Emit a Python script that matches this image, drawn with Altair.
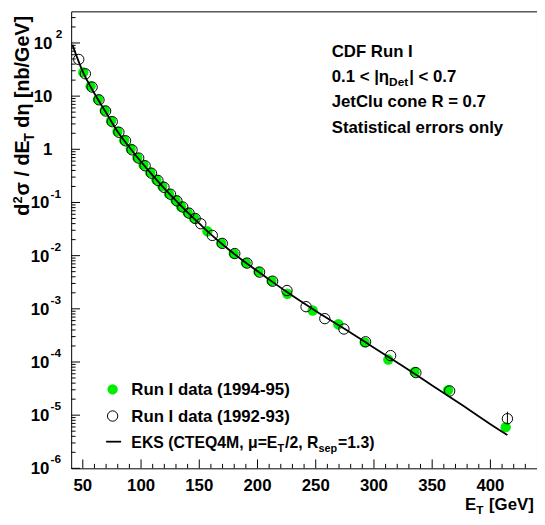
import altair as alt
import pandas as pd

# ---------------- data ----------------
# Run I data (1994-95), filled green
et_9495 = [50.4, 56.7, 63.1, 68.8, 74.2, 79.8, 85.5, 91.1, 96.8, 102.1, 107.8, 113.1,
           118.2, 123.9, 129.6, 134.3, 140.0, 145.7, 157.0, 168.8, 179.6, 190.0, 200.8,
           212.0, 225.6, 247.4, 269.4, 292.0, 312.3, 334.9, 363.7, 413.1]
xs_9495 = [27.9, 15.4, 8.71, 5.38, 3.41, 2.17, 1.48, 1.023, 0.698, 0.511, 0.368, 0.270,
           0.203, 0.1466, 0.1104, 0.0841, 0.0646, 0.0501, 0.0287, 0.01722, 0.01094, 0.00733,
           0.00499, 0.00335, 0.00192, 0.000929, 0.000512, 0.000234, 0.0001112, 6.50e-5,
           2.96e-5, 5.94e-6]

# Run I data (1992-93), open circles
et_9293 = [46.5, 52.2, 58.0, 63.9, 69.6, 75.3, 81.0, 86.7, 92.3, 98.0, 103.5, 109.0, 114.5,
           119.7, 125.3, 130.8, 135.8, 141.2, 146.5, 151.3, 161.2, 169.8, 180.5, 191.0, 201.8,
           213.0, 225.3, 241.7, 257.8, 274.2, 292.8, 314.3, 336.0, 365.0, 414.6]
xs_9293 = [49.0, 26.3, 14.8, 8.51, 5.25, 3.31, 2.09, 1.445, 0.977, 0.684, 0.490, 0.355, 0.260,
           0.193, 0.143, 0.1072, 0.0822, 0.0631, 0.0501, 0.0398, 0.0240, 0.0170, 0.01096,
           0.00724, 0.00490, 0.00331, 0.00221, 0.001096, 0.000653, 0.000417, 0.000240,
           0.0001318, 6.31e-5, 2.85e-5, 8.57e-6]
err_et = [414.6]
err_lo = [6.8e-6]
err_hi = [1.16e-5]

# EKS theory curve
et_eks = [41.1, 50, 60, 70, 80, 90, 100, 110, 120, 130, 140, 150, 160, 175, 190, 205, 225,
          250, 275, 300, 325, 350, 375, 400, 414.6]
xs_eks = [92.3, 28.8, 11.2, 4.90, 2.14, 1.096, 0.582, 0.324, 0.184, 0.1084, 0.0653, 0.0403,
          0.0251, 0.01318, 0.00733, 0.00427, 0.00209, 0.000912, 0.000417, 0.000186, 8.32e-5,
          3.63e-5, 1.585e-5, 6.76e-6, 4.22e-6]

# axis ticks and labels
x_major = [50, 100, 150, 200, 250, 300, 350, 400]
x_labels = ["50", "100", "150", "200", "250", "300", "350", "400"]
x_minor = [v for v in range(60, 440, 10) if v % 50 != 0]
y_major = [1e-6, 1e-5, 1e-4, 1e-3, 1e-2, 1e-1, 1, 10, 100]
y_base = ["10", "10", "10", "10", "10", "10", "1", "10", "10"]
y_exp = ["-6", "-5", "-4", "-3", "-2", "-1", "", "", "2"]
y_minor = [m * 10.0 ** e for e in range(-6, 3) for m in range(2, 10) if m * 10.0 ** e < 390]

# ---------------- layout ----------------
FONT = "Liberation Sans"
W_PLOT, H_PLOT = 472, 463
XDOM = [40, 440]
YDOM = [1e-6, 392.6]
GREEN = "#00ee00"
MSIZE = 110

xs = alt.Scale(domain=XDOM, nice=False, zero=False)
ys = alt.Scale(type="log", domain=YDOM, nice=False)

df94 = pd.DataFrame({"et": et_9495, "xs": xs_9495})
df92 = pd.DataFrame({"et": et_9293, "xs": xs_9293})
dferr = pd.DataFrame({"et": err_et, "lo": err_lo, "hi": err_hi})
dfeks = pd.DataFrame({"et": et_eks, "xs": xs_eks})
dfxmaj = pd.DataFrame({"et": x_major, "lab": x_labels})
dfxmin = pd.DataFrame({"et": x_minor})
dfymaj = pd.DataFrame({"v": y_major, "base": y_base, "exp": y_exp})
dfymin = pd.DataFrame({"v": y_minor})
dummy = pd.DataFrame({"k": [0]})

X = lambda f: alt.X(f, type="quantitative", scale=xs, axis=None)
Y = lambda f: alt.Y(f, type="quantitative", scale=ys, axis=None)

layers = []

# data
layers.append(alt.Chart(df94).mark_point(shape="circle", filled=True, size=MSIZE, color=GREEN, opacity=1)
              .encode(x=X("et"), y=Y("xs")))
layers.append(alt.Chart(dfeks).mark_line(color="black", strokeWidth=1.8, interpolate="monotone")
              .encode(x=X("et"), y=Y("xs")))
layers.append(alt.Chart(dferr).mark_rule(color="black", strokeWidth=1)
              .encode(x=X("et"), y=Y("lo"), y2="hi"))
layers.append(alt.Chart(df92).mark_point(shape="circle", filled=False, size=MSIZE, color="black",
                                         strokeWidth=1, opacity=1)
              .encode(x=X("et"), y=Y("xs")))

# ticks (drawn inside the frame, as ROOT does)
layers.append(alt.Chart(dfxmaj).mark_rule(color="black", strokeWidth=1)
              .encode(x=X("et"), y=alt.value(H_PLOT), y2=alt.value(H_PLOT - 9)))
layers.append(alt.Chart(dfxmin).mark_rule(color="black", strokeWidth=1)
              .encode(x=X("et"), y=alt.value(H_PLOT), y2=alt.value(H_PLOT - 4.5)))
layers.append(alt.Chart(dfymaj).mark_rule(color="black", strokeWidth=1)
              .encode(y=Y("v"), x=alt.value(0), x2=alt.value(9)))
layers.append(alt.Chart(dfymin).mark_rule(color="black", strokeWidth=1)
              .encode(y=Y("v"), x=alt.value(0), x2=alt.value(4.5)))

# tick labels
layers.append(alt.Chart(dfxmaj).mark_text(font=FONT, fontWeight="bold", fontSize=17, color="black",
                                          align="center", baseline="alphabetic")
              .encode(x=X("et"), y=alt.value(H_PLOT + 23), text="lab:N"))


def ylab(filt, xbase, xexp):
    base = (alt.Chart(dfymaj).transform_filter(filt)
            .mark_text(font=FONT, fontWeight="bold", fontSize=17, color="black",
                       align="right", baseline="middle", dy=1)
            .encode(y=Y("v"), x=alt.value(xbase), text="base:N"))
    ex = (alt.Chart(dfymaj).transform_filter(filt)
          .mark_text(font=FONT, fontWeight="bold", fontSize=12, color="black",
                     align="left", baseline="middle", dy=-9)
          .encode(y=Y("v"), x=alt.value(xexp), text="exp:N"))
    return [base, ex]


layers += ylab("datum.exp == ''", -19, -19)
layers += ylab("datum.exp == '2'", -19, -15.5)
layers += ylab("indexof(datum.exp, '-') == 0", -22, -21)

# text helpers
WID = {' ': .278, '(': .333, ')': .333, ',': .278, '-': .333, '.': .278, '/': .278,
       '=': .584, '<': .584, '>': .584, '[': .333, ']': .333, '|': .28, 'σ': .62, 'η': .61,
       'μ': .61, 'A': .722, 'C': .722, 'D': .722, 'E': .667, 'F': .611, 'G': .778, 'I': .278,
       'J': .556, 'K': .722, 'M': .833, 'Q': .778, 'R': .722, 'S': .667, 'T': .611, 'V': .667,
       'a': .556, 'b': .611, 'c': .556, 'd': .611, 'e': .556, 'i': .278, 'l': .278, 'n': .611,
       'o': .611, 'p': .611, 'r': .389, 's': .556, 't': .333, 'u': .611, 'y': .556}


def tw(s, size):
    return sum(WID.get(c, 0.556) for c in s) * size


def seq(pieces, x, y, angle=0):
    """Pieces of one text line (with sub/superscripts), laid one after the other."""
    out, off = [], 0.0
    for s, size, dy in pieces:
        lead = len(s) - len(s.lstrip(" "))
        off += lead * WID[" "] * size
        s = s.lstrip(" ")
        kw = dict(text=s, font=FONT, fontWeight="bold", fontSize=size, color="black",
                  align="left", baseline="alphabetic", dx=off, dy=dy)
        if angle:
            kw["angle"] = angle
        out.append(alt.Chart(dummy).mark_text(**kw).encode(x=alt.value(x), y=alt.value(y)))
        off += tw(s, size) + (1 if size < 14 else 0)
    return out


# axis titles
layers += seq([("d", 20, 0), ("2", 13, -7), ("σ / dE", 20, 0), ("T", 14, 5),
               (" dη [nb/GeV]", 20, 0)], -43, 207, angle=270)
layers += seq([("E", 17, 0), ("T", 12, 4), (" [GeV]", 17, 0)], 399, 505)

# info text
TX = 264
layers += seq([("CDF Run I", 17, 0)], TX, 46)
layers += seq([("0.1 < |η", 17, 0), ("Det", 12, 4), ("| < 0.7", 17, 0)], TX, 72)
layers += seq([("JetClu cone R = 0.7", 17, 0)], TX, 97)
layers += seq([("Statistical errors only", 17, 0)], TX, 123)

# legend
layers.append(alt.Chart(dummy).mark_point(shape="circle", filled=True, size=MSIZE, color=GREEN, opacity=1)
              .encode(x=alt.value(42), y=alt.value(383)))
layers.append(alt.Chart(dummy).mark_point(shape="circle", filled=False, size=MSIZE, color="black",
                                          strokeWidth=1, opacity=1)
              .encode(x=alt.value(42), y=alt.value(410)))
layers.append(alt.Chart(dummy).mark_rule(color="black", strokeWidth=1.8)
              .encode(x=alt.value(35.4), x2=alt.value(50.6), y=alt.value(436)))
layers += seq([("Run I data (1994-95)", 17, 0)], 61, 389)
layers += seq([("Run I data (1992-93)", 17, 0)], 61, 416)
layers += seq([("EKS (CTEQ4M, μ=E", 16, 0), ("T", 11, 4), ("/2, R", 16, 0), ("sep", 11, 4),
               ("=1.3)", 16, 0)], 61, 442)

chart = (alt.layer(*layers)
         .properties(width=W_PLOT, height=H_PLOT,
                     autosize=alt.AutoSizeParams(type="none"),
                     padding={"left": 64, "top": 0, "right": 0, "bottom": 54},
                     background="white")
         .configure_view(stroke="black", strokeWidth=1))

chart.save("out.html", embed_options={"renderer": "svg", "actions": False})
